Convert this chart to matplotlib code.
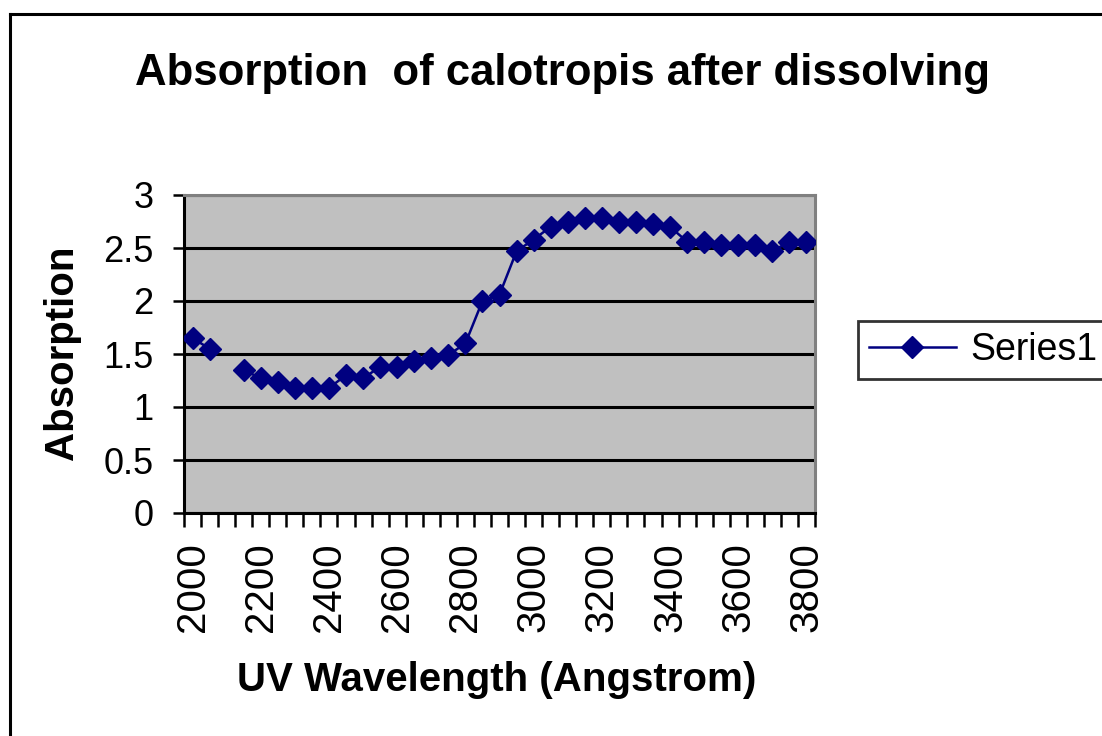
import numpy as np
import matplotlib
matplotlib.use("Agg")
import matplotlib.pyplot as plt
from matplotlib.lines import Line2D

plt.rcParams['font.family'] = ['Liberation Sans', 'DejaVu Sans']

# ---- data ----
wavelengths = [2000, 2050, 2100, 2150, 2200, 2250, 2300, 2350, 2400, 2450,
               2500, 2550, 2600, 2650, 2700, 2750, 2800, 2850, 2900, 2950,
               3000, 3050, 3100, 3150, 3200, 3250, 3300, 3350, 3400, 3450,
               3500, 3550, 3600, 3650, 3700, 3750, 3800]
absorption = [1.65, 1.55, None, 1.35, 1.27, 1.24, 1.18, 1.18, 1.18, 1.30,
              1.27, 1.38, 1.38, 1.43, 1.46, 1.49, 1.60, 2.00, 2.06, 2.47,
              2.58, 2.70, 2.75, 2.78, 2.78, 2.75, 2.75, 2.73, 2.70, 2.56,
              2.56, 2.53, 2.53, 2.53, 2.47, 2.56, 2.56]
label_every = 4
title = "Absorption  of calotropis after dissolving"
xlabel = "UV Wavelength (Angstrom)"
ylabel = "Absorption"
series_name = "Series1"

W, H = 1102, 736
fig = plt.figure(figsize=(W / 100, H / 100), dpi=100)
fig.patch.set_facecolor('white')

# outer chart frame (extends past right/bottom edges)
fig.add_artist(Line2D([10 / W, 10 / W], [1 - 14 / H, 0], transform=fig.transFigure,
                      color='black', lw=2.2, solid_capstyle='projecting'))
fig.add_artist(Line2D([10 / W, 1], [1 - 14 / H, 1 - 14 / H], transform=fig.transFigure,
                      color='black', lw=2.2, solid_capstyle='projecting'))

left, right, top, bottom = 184, 815, 195, 513
ax = fig.add_axes([left / W, 1 - bottom / H, (right - left) / W, (bottom - top) / H])
ax.set_facecolor('#C0C0C0')

x = np.arange(len(wavelengths))
y = np.array([np.nan if v is None else v for v in absorption], dtype=float)
ax.plot(x, y, color='#000080', lw=1.8, marker='D', ms=11, mec='#000080',
        mfc='#000080', label=series_name, zorder=3)

ax.set_xlim(-0.5, len(wavelengths) - 0.5)
ax.set_ylim(0, 3)
ax.set_yticks(np.arange(0, 3.01, 0.5))
ax.set_yticklabels(['0', '0.5', '1', '1.5', '2', '2.5', '3'])
ax.yaxis.grid(True, color='black', lw=2.2)
ax.set_axisbelow(True)

# category labels at centres, tick marks at category boundaries
ax.set_xticks(x[::label_every])
ax.set_xticklabels([str(w) for w in wavelengths[::label_every]], rotation=90)
ax.set_xticks(np.arange(-0.5, len(wavelengths), 1.0), minor=True)
ax.tick_params(axis='x', which='major', length=0, pad=21, labelsize=29)
ax.tick_params(axis='x', which='minor', length=10, width=1.8, direction='out', color='black')
ax.tick_params(axis='y', which='major', length=8, width=1.8, direction='out', pad=14,
               labelsize=26)

for s in ['left', 'bottom']:
    ax.spines[s].set_color('black')
    ax.spines[s].set_linewidth(2.2)
for s in ['top', 'right']:
    ax.spines[s].set_color('#808080')
    ax.spines[s].set_linewidth(2.2)

fig.text(563 / W, 1 - 73 / H, title, ha='center', va='center', fontsize=31.5,
         fontweight='bold')
fig.text(497 / W, 1 - 680 / H, xlabel, ha='center', va='center', fontsize=29,
         fontweight='bold')
fig.text(62 / W, 1 - 353 / H, ylabel, ha='center', va='center', fontsize=29,
         fontweight='bold', rotation=90)

leg = fig.legend(loc='center left', bbox_to_anchor=(858 / W, 1 - 350 / H),
                 frameon=True, fancybox=False, fontsize=27, handlelength=2.3,
                 borderpad=0.3, handletextpad=0.4, borderaxespad=0)
leg.get_frame().set_edgecolor('black')
leg.get_frame().set_linewidth(2)

fig.savefig('out.png', dpi=100, facecolor='white')
